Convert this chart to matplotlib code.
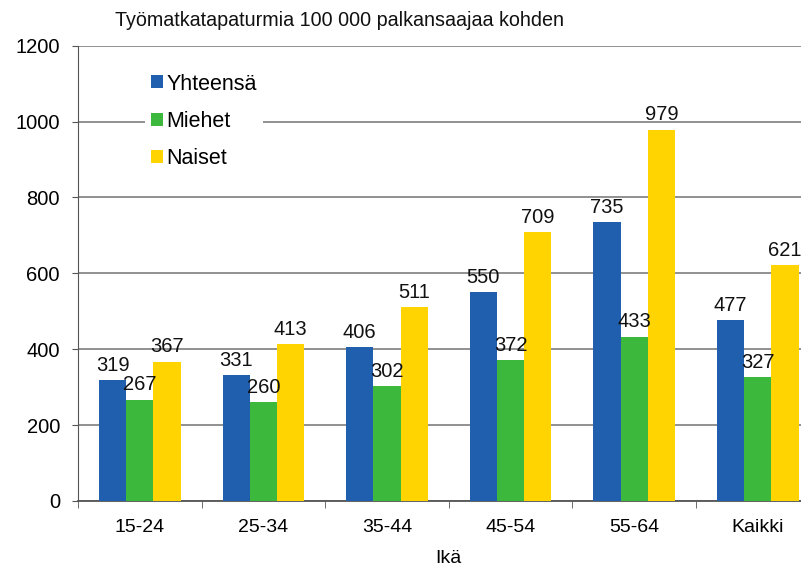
"""Työmatkatapaturmat ikäryhmittäin, grouped bar chart."""

import matplotlib

matplotlib.use("Agg")
import matplotlib.pyplot as plt
import numpy as np

categories = ["15-24", "25-34", "35-44", "45-54", "55-64", "Kaikki"]
yhteensa = [319, 331, 406, 550, 735, 477]
miehet = [267, 260, 302, 372, 433, 327]
naiset = [367, 413, 511, 709, 979, 621]
series_names = ["Yhteensä", "Miehet", "Naiset"]
colors = ["#1f5fad", "#3cb83c", "#ffd400"]

plt.rcParams["font.family"] = ["Liberation Sans", "DejaVu Sans"]

fig = plt.figure(figsize=(8.01, 5.68), dpi=100)
ax = fig.add_axes([78 / 801, 67 / 568, 741.6 / 801, 455.3 / 568])

x = np.arange(len(categories))
width = 0.22
for i, (vals, name, col) in enumerate(zip([yhteensa, miehet, naiset], series_names, colors)):
    pos = x + (i - 1) * width
    ax.bar(pos, vals, width, color=col, label=name, zorder=3)
    for xp, v in zip(pos, vals):
        ax.text(xp, v + 14, str(v), ha="center", va="bottom", fontsize=14.5,
                color="#111111", zorder=5, clip_on=False)

ax.set_xlim(-0.5, len(categories) - 0.5)
ax.set_ylim(0, 1200)
ax.set_yticks(np.arange(0, 1201, 200))
ax.set_xticks(x)
ax.set_xticklabels(categories, fontsize=14)
ax.tick_params(axis="y", labelsize=14.5, length=4, color="#555555", pad=9)
ax.set_xticks(np.arange(-0.5, len(categories)), minor=True)
ax.tick_params(axis="x", which="major", length=0, pad=13)
ax.tick_params(axis="x", which="minor", length=5, color="#555555")
ax.grid(axis="y", color="#888888", linewidth=1.3, zorder=0)
for side in ["top", "right"]:
    ax.spines[side].set_visible(False)
ax.spines["left"].set_color("#555555")
ax.spines["bottom"].set_color("#555555")
ax.spines["bottom"].set_linewidth(1.3)

ax.set_xlabel("Ikä", fontsize=14, labelpad=10)

leg = ax.legend(
    loc="upper left",
    bbox_to_anchor=(0.09, 0.953),
    frameon=True,
    fontsize=15.5,
    handlelength=0.55,
    handleheight=0.55,
    handletextpad=0.15,
    labelspacing=0.75,
    borderpad=0.3,
    borderaxespad=0,
)
leg.get_frame().set_edgecolor("none")
leg.get_frame().set_facecolor("white")
leg.get_frame().set_alpha(1)
leg.set_zorder(6)

fig.text(115 / 801, 1 - 20 / 568, "Työmatkatapaturmia 100 000 palkansaajaa kohden",
         fontsize=14.2, va="center", ha="left", color="#111111")

fig.savefig("out.png", dpi=100)
